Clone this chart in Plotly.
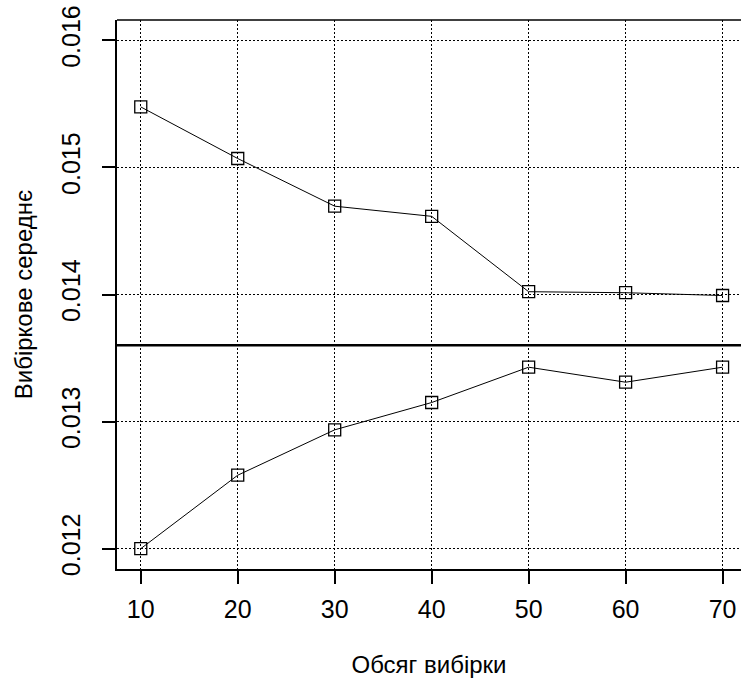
import plotly.graph_objects as go

sample_sizes = [10, 20, 30, 40, 50, 60, 70]
upper_means = [0.015476, 0.015070, 0.014695, 0.014615, 0.014022, 0.014014, 0.013992]
lower_means = [0.012000, 0.012578, 0.012935, 0.013150, 0.013428, 0.013310, 0.013428]
true_mean = 0.0136
y_ticks = [0.012, 0.013, 0.014, 0.015, 0.016]
y_tick_labels = ["0.012", "0.013", "0.014", "0.015", "0.016"]
x_title = "Обсяг вибірки"
y_title = "Вибіркове середнє"

FONT = "Liberation Sans, Arial, sans-serif"

fig = go.Figure()
for ys in (upper_means, lower_means):
    fig.add_trace(go.Scatter(
        x=sample_sizes, y=ys, mode="lines+markers",
        line=dict(color="black", width=1),
        marker=dict(symbol="square-open", size=12, color="black", line=dict(width=1.3)),
        showlegend=False, cliponaxis=False,
    ))

fig.add_hline(y=true_mean, line=dict(color="black", width=2.5))
# top border of the box
fig.add_shape(type="line", xref="paper", yref="paper", x0=0, x1=1, y0=1, y1=1,
              line=dict(color="black", width=1.5))

fig.update_layout(
    width=741, height=681,
    template="none",
    paper_bgcolor="white", plot_bgcolor="white",
    margin=dict(l=117, r=0, t=20, b=112),
    font=dict(family=FONT, size=25, color="black"),
)
fig.update_xaxes(
    range=[7.55, 71.9], tickvals=sample_sizes, ticktext=[str(v) for v in sample_sizes],
    ticks="outside", ticklen=13, tickwidth=1.5, tickcolor="black",
    showline=True, linecolor="black", linewidth=1.5,
    showgrid=True, gridcolor="black", gridwidth=1.2, griddash="2px,2px",
    zeroline=False, automargin=False, ticklabelstandoff=4,
    title=dict(text=x_title, font=dict(size=24), standoff=34),
)
fig.update_yaxes(
    range=[0.01184, 0.01616], tickvals=y_ticks, ticktext=y_tick_labels, tickangle=-90,
    ticks="outside", ticklen=13, tickwidth=1.5, tickcolor="black",
    showline=True, linecolor="black", linewidth=1.5,
    showgrid=True, gridcolor="black", gridwidth=1.2, griddash="2px,2px",
    zeroline=False, automargin=False, ticklabelstandoff=12,
    title=dict(text=y_title, font=dict(size=24), standoff=18),
)

fig.write_html(
    "out.html",
    config={"displayModeBar": False},
    post_script="document.body.style.margin='0';document.body.style.padding='0';",
)
